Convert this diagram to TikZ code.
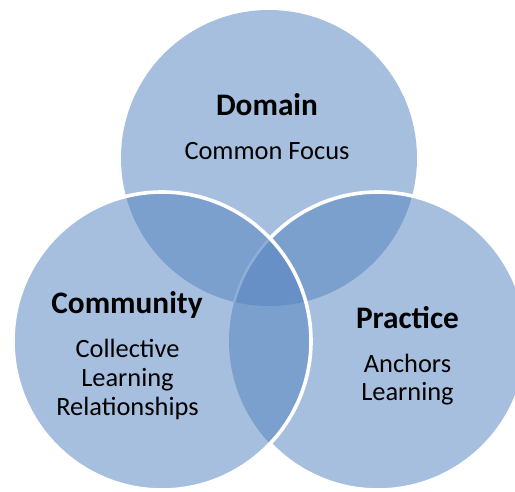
\documentclass[tikz,border=0pt]{standalone}
\usepackage{fontspec}
\setmainfont{Carlito}
\definecolor{vbase}{HTML}{A7BFDE}
\definecolor{vtwo}{HTML}{7BA0CD}
\definecolor{vthree}{HTML}{6690C6}
\definecolor{vfaint}{HTML}{8FAED6}
\tikzset{
  headtxt/.style={anchor=base, inner sep=0pt, font=\fontsize{31.3}{31}\selectfont\bfseries},
  bodytxt/.style={anchor=base, inner sep=0pt, font=\fontsize{26.4}{29}\selectfont},
  ring/.style={white, line width=3.6pt}
}
\begin{document}
\begin{tikzpicture}[x=1pt,y=-1pt]
\useasboundingbox (0,0) rectangle (515,491);
\coordinate (T) at (269,158);
\coordinate (L) at (162,341);
\coordinate (R) at (378,341);
\def\rT{148}
\def\rS{149}
% base fills
\fill[vbase] (T) circle[radius=\rT];
\fill[vbase] (L) circle[radius=\rS];
\fill[vbase] (R) circle[radius=\rS];
% pairwise overlaps
\begin{scope}
  \clip (T) circle[radius=\rT];
  \fill[vtwo] (L) circle[radius=\rS];
  \fill[vtwo] (R) circle[radius=\rS];
\end{scope}
\begin{scope}
  \clip (L) circle[radius=\rS];
  \fill[vtwo] (R) circle[radius=\rS];
\end{scope}
% triple overlap
\begin{scope}
  \clip (T) circle[radius=\rT];
  \clip (L) circle[radius=\rS];
  \fill[vthree] (R) circle[radius=\rS];
\end{scope}
% faint edge of right circle inside triple region
\begin{scope}
  \clip (T) circle[radius=\rT];
  \clip (L) circle[radius=\rS];
  \draw[vfaint, line width=2.5pt] (R) circle[radius=\rS];
\end{scope}
% white outline of right circle, hidden inside left circle
\begin{scope}[even odd rule]
  \clip (-10,-10) rectangle (525,501) (L) circle[radius=\rS];
  \draw[ring] (R) circle[radius=\rS];
\end{scope}
% white outline of left circle
\draw[ring] (L) circle[radius=\rS];
% texts
\node[headtxt] (dom) at (267,115) {Domain};
\node[bodytxt] (domt) at (267,159) {Common Focus};
\node[headtxt] (com) at (127,313) {Community};
\node[bodytxt] (com1) at (127.5,357) {Collective};
\node[bodytxt] (com2) at (127.5,386) {Learning};
\node[bodytxt] (com3) at (127.5,415) {Relationships};
\node[headtxt] (pra) at (407.5,328) {Practice};
\node[bodytxt] (pra1) at (407.5,372) {Anchors};
\node[bodytxt] (pra2) at (407.5,400) {Learning};
\end{tikzpicture}
\end{document}
